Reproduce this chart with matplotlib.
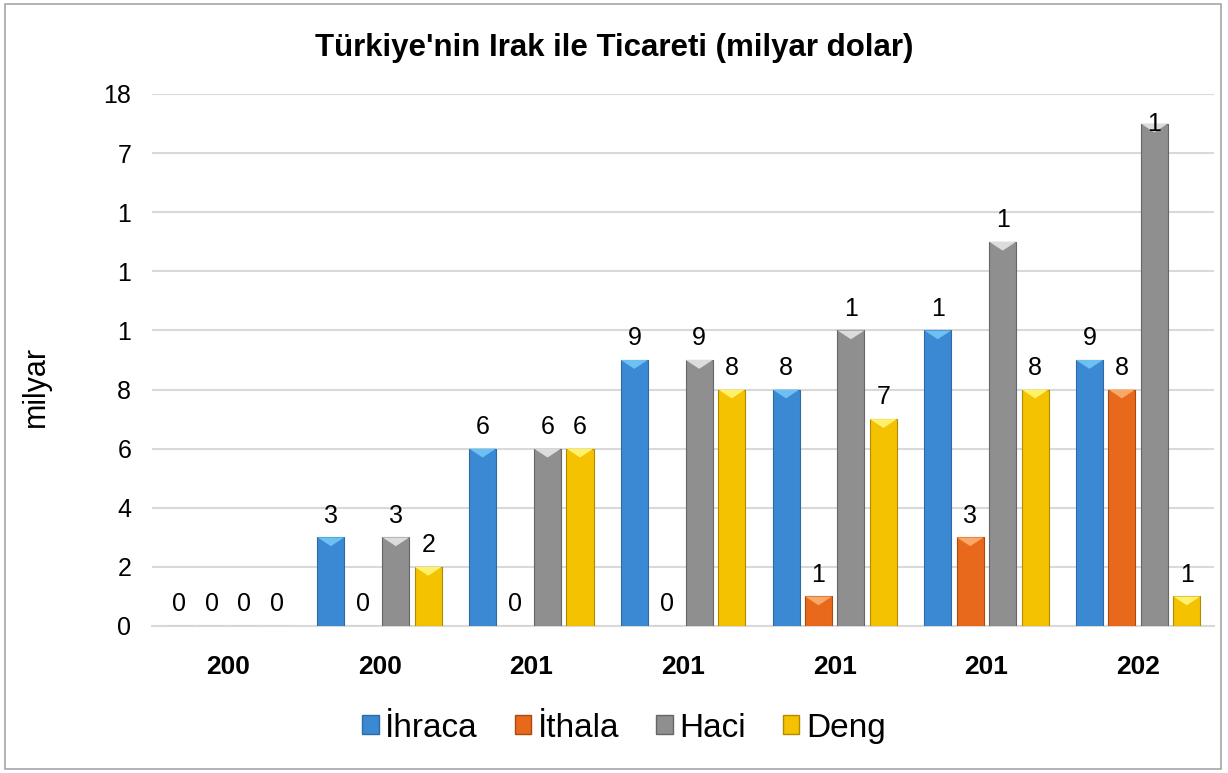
import matplotlib
matplotlib.use("Agg")
import matplotlib.pyplot as plt
from matplotlib.patches import Polygon, Patch, Rectangle
import numpy as np

plt.rcParams["font.family"] = ["Liberation Sans", "DejaVu Sans"]

categories = ["200", "200", "201", "201", "201", "201", "202"]
series_names = ["İhraca", "İthala", "Haci", "Deng"]

ihracat = [0, 3, 6, 9, 8, 10, 9]
ithalat = [0, 0, 0, 0, 1, 3, 8]
hacim = [0, 3, 6, 9, 10, 13, 17]
denge = [0, 2, 6, 8, 7, 8, 1]

# labels as they appear (truncated) in the source chart
ihracat_labels = ["0", "3", "6", "9", "8", "1", "9"]
ithalat_labels = ["0", "0", "0", "0", "1", "3", "8"]
hacim_labels = ["0", "3", "6", "9", "1", "1", "1"]
denge_labels = ["0", "2", "6", "8", "7", "8", "1"]

y_ticks = [0, 2, 4, 6, 8, 10, 12, 14, 16, 18]
y_tick_labels = ["0", "2", "4", "6", "8", "1", "1", "1", "7", "18"]

values = [ihracat, ithalat, hacim, denge]
labels = [ihracat_labels, ithalat_labels, hacim_labels, denge_labels]
face_colors = ["#3b88d3", "#e8691b", "#8f8f8f", "#f4c200"]
top_colors = ["#6cc0f2", "#f9a868", "#dcdcdc", "#fff26a"]
edge_colors = ["#2d6aa6", "#a94a0e", "#666666", "#b08a00"]

fig = plt.figure(figsize=(12.28, 7.73), dpi=100)
ax = fig.add_axes([0.1238, 0.1902, 0.8648, 0.6882])

x = np.arange(len(categories))
pitch = 0.214
width = 0.178
ymax = 18
bevel = 0.3

for j, (vals, labs) in enumerate(zip(values, labels)):
    pos = x + (j - 1.5) * pitch
    bars = ax.bar(pos, vals, width=width, color=face_colors[j],
                  edgecolor=edge_colors[j], linewidth=0.8, zorder=3)
    for b, lab in zip(bars, labs):
        bx, bw, bh = b.get_x(), b.get_width(), b.get_height()
        if bh > 0:
            tri = Polygon([(bx, bh), (bx + bw, bh), (bx + bw / 2, bh - bevel)],
                          closed=True, facecolor=top_colors[j],
                          edgecolor="none", zorder=4)
            ax.add_patch(tri)
        if bh + 1.2 > ymax:
            ax.text(bx + bw / 2, bh, lab, ha="center", va="center",
                    fontsize=18, color="black", zorder=5)
        else:
            ax.annotate(lab, (bx + bw / 2, bh), xytext=(0, 7),
                        textcoords="offset points", ha="center", va="bottom",
                        fontsize=18, color="black", zorder=5)

ax.set_xlim(-0.5, len(categories) - 0.5)
ax.set_ylim(0, ymax)
ax.set_yticks(y_ticks)
ax.set_yticklabels(y_tick_labels)
ax.set_xticks(x)
ax.set_xticklabels(categories, fontweight="bold")
ax.tick_params(axis="y", length=0, pad=15, labelsize=18)
ax.tick_params(axis="x", length=0, pad=21, labelsize=19)
ax.grid(axis="y", color="#d9d9d9", linewidth=1.5, zorder=0)
for s in ["top", "right", "left"]:
    ax.spines[s].set_visible(False)
ax.spines["bottom"].set_color("#d9d9d9")
ax.spines["bottom"].set_linewidth(1.5)

fig.text(0.5, 0.938, "Türkiye'nin Irak ile Ticareti (milyar dolar)",
         ha="center", va="center", fontsize=22.5, fontweight="bold")
fig.text(0.029, 0.50, "milyar", ha="center", va="center", rotation=90,
         fontsize=22)

handles = [Patch(facecolor=face_colors[j], edgecolor=edge_colors[j], label=series_names[j])
           for j in range(len(series_names))]
fig.legend(handles=handles, loc="center", bbox_to_anchor=(0.508, 0.058), ncol=4,
           frameon=False, fontsize=24, handlelength=0.5, handleheight=0.5,
           handletextpad=0.2, columnspacing=1.1)

fig.patches.append(Rectangle((0.004, 0.005), 0.99, 0.99, transform=fig.transFigure,
                             fill=False, edgecolor="#a6a6a6", linewidth=1.2))

fig.savefig("out.png", dpi=100)
